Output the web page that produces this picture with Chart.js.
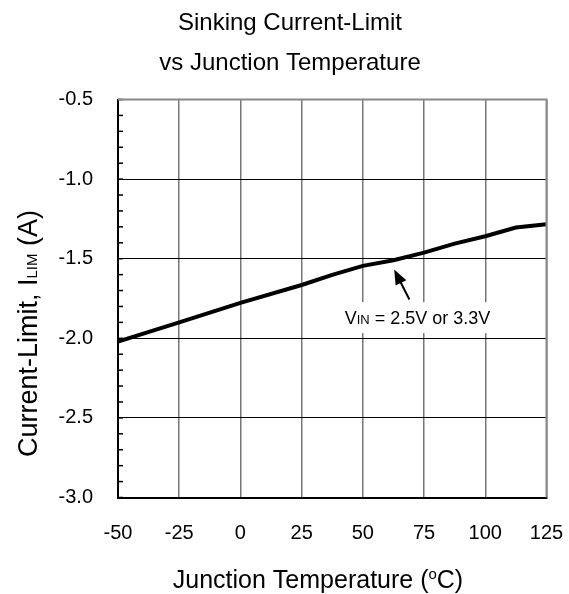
<!DOCTYPE html>
<html>
<head>
<meta charset="utf-8">
<script src="https://cdn.jsdelivr.net/npm/chart.js@4.4.1/dist/chart.umd.min.js"></script>
<style>
  html, body { margin: 0; padding: 0; background: #fff; }
  canvas { display: block; }
</style>
</head>
<body>
<canvas id="limitChart" width="569" height="594"></canvas>
<script>
// Sinking current-limit vs junction temperature
const temps = [-50, -25, 0, 25, 37.5, 50, 62.5, 75, 87.5, 100, 112.5, 125];
const currentLimit = [-2.02, -1.90, -1.777, -1.665, -1.602, -1.545, -1.51, -1.462, -1.405, -1.359, -1.304, -1.283];
const xTicks = [-50, -25, 0, 25, 50, 75, 100, 125];
const yTicks = [-3.0, -2.5, -2.0, -1.5, -1.0, -0.5];

const FONT = "'Liberation Sans', Arial, sans-serif";

// draws text made of parts, some smaller (like V + IN), centred on cx
function drawParts(ctx, parts, cx, cy) {
  let total = 0;
  parts.forEach(p => {
    ctx.font = p.size + "px " + FONT;
    p.w = ctx.measureText(p.t).width;
    total += p.w;
  });
  let x = cx - total / 2;
  ctx.textBaseline = "alphabetic";
  ctx.textAlign = "left";
  parts.forEach(p => {
    ctx.font = p.size + "px " + FONT;
    ctx.fillText(p.t, x, cy + (p.dy || 0));
    x += p.w;
  });
}

const decor = {
  id: "decor",
  beforeDraw(chart) {
    const ctx = chart.ctx;
    ctx.save();
    ctx.fillStyle = "#fff";
    ctx.fillRect(0, 0, chart.width, chart.height);
    ctx.restore();
  },
  afterDatasetsDraw(chart) {
    const ctx = chart.ctx;
    const a = chart.chartArea;
    const xs = chart.scales.x, ys = chart.scales.y;
    ctx.save();
    ctx.fillStyle = "#000";

    // minor ticks on left axis
    ctx.strokeStyle = "#000";
    ctx.lineWidth = 1.5;
    for (let i = 0; i <= 25; i++) {
      const py = ys.getPixelForValue(-3 + i * 0.1);
      ctx.beginPath();
      ctx.moveTo(a.left, py);
      ctx.lineTo(a.left + 5, py);
      ctx.stroke();
    }

    // annotation: label box + arrow
    const tx = xs.getPixelForValue(72.3), ty = ys.getPixelForValue(-1.867);
    ctx.fillStyle = "#fff";
    ctx.fillRect(tx - 78, ty - 15, 156, 31);
    ctx.fillStyle = "#000";
    drawParts(ctx, [
      { t: "V", size: 18 },
      { t: "IN", size: 13 },
      { t: " = 2.5V or 3.3V", size: 18 }
    ], tx, ty + 7);

    const hx = xs.getPixelForValue(62.8), hy = ys.getPixelForValue(-1.568);
    const bx = xs.getPixelForValue(69), by = ys.getPixelForValue(-1.756);
    const ang = Math.atan2(hy - by, hx - bx);
    ctx.strokeStyle = "#000";
    ctx.lineWidth = 2;
    ctx.beginPath();
    ctx.moveTo(bx, by);
    ctx.lineTo(hx - 10 * Math.cos(ang), hy - 10 * Math.sin(ang));
    ctx.stroke();
    ctx.beginPath();
    ctx.moveTo(hx, hy);
    ctx.lineTo(hx - 15 * Math.cos(ang) + 6 * Math.sin(ang), hy - 15 * Math.sin(ang) - 6 * Math.cos(ang));
    ctx.lineTo(hx - 15 * Math.cos(ang) - 6 * Math.sin(ang), hy - 15 * Math.sin(ang) + 6 * Math.cos(ang));
    ctx.closePath();
    ctx.fill();

    // frame: top and right in grey
    ctx.strokeStyle = "#888";
    ctx.lineWidth = 2;
    ctx.beginPath();
    ctx.moveTo(a.left, a.top);
    ctx.lineTo(a.right, a.top);
    ctx.lineTo(a.right, a.bottom);
    ctx.stroke();

    // titles
    ctx.fillStyle = "#000";
    ctx.font = "24px " + FONT;
    ctx.textAlign = "center";
    ctx.textBaseline = "middle";
    ctx.fillText("Sinking Current-Limit", 290, 23);
    ctx.fillText("vs Junction Temperature", 290, 63);

    drawParts(ctx, [
      { t: "Junction Temperature (", size: 25 },
      { t: "o", size: 15, dy: -9 },
      { t: "C)", size: 25 }
    ], 318, 588);

    ctx.save();
    ctx.translate(37, 333.5);
    ctx.rotate(-Math.PI / 2);
    drawParts(ctx, [
      { t: "Current-Limit, I", size: 27 },
      { t: "LIM", size: 15 },
      { t: " (A)", size: 27 }
    ], 0, 0);
    ctx.restore();

    ctx.restore();
  }
};

const ctx = document.getElementById("limitChart").getContext("2d");
const limitChart = new Chart(ctx, {
  type: "line",
  data: {
    datasets: [
      {
        label: "VIN = 2.5V or 3.3V",
        data: temps.map((t, i) => ({ x: t, y: currentLimit[i] })),
        borderColor: "#000",
        borderWidth: 4,
        pointRadius: 0,
        fill: false,
        tension: 0,
      },
    ],
  },
  options: {
    responsive: false,
    animation: false,
    layout: { padding: { top: 99.5, right: 22.5, bottom: 0, left: 0 } },
    plugins: {
      legend: { display: false },
      title: { display: false },
      tooltip: { enabled: false },
    },
    scales: {
      x: {
        type: "linear",
        min: -50,
        max: 125,
        afterBuildTicks(scale) {
          scale.ticks = xTicks.map(v => ({ value: v }));
        },
        afterFit(scale) {
          scale.height = 96.5;
          scale.paddingLeft = 0;
          scale.paddingRight = 0;
        },
        ticks: {
          color: "#000",
          font: { family: FONT, size: 20 },
          padding: 24,
          maxRotation: 0,
        },
        grid: { color: "#777", lineWidth: 1.5, drawTicks: false },
        border: { color: "#000", width: 2 },
      },
      y: {
        min: -3,
        max: -0.5,
        afterBuildTicks(scale) {
          scale.ticks = yTicks.map(v => ({ value: v }));
        },
        afterFit(scale) {
          scale.width = 118;
          scale.paddingTop = 0;
          scale.paddingBottom = 0;
        },
        ticks: {
          color: "#000",
          font: { family: FONT, size: 20 },
          padding: 25,
          callback: v => v.toFixed(1),
        },
        grid: { color: "#000", lineWidth: 1, drawTicks: false },
        border: { color: "#000", width: 2 },
      },
    },
  },
  plugins: [decor],
});
</script>
</body>
</html>
